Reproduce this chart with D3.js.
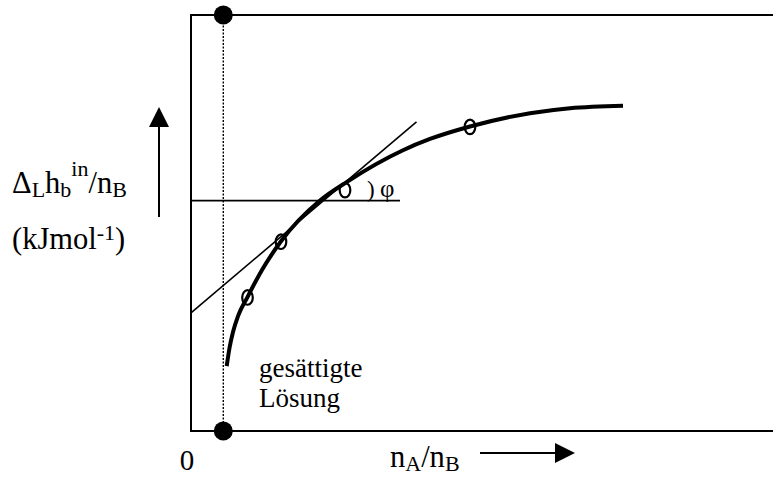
<!DOCTYPE html>
<html>
<head>
<meta charset="utf-8">
<script src="https://cdn.jsdelivr.net/npm/d3@7"></script>
<style>
  html, body { margin: 0; padding: 0; background: #fff; }
  svg { display: block; }
  text { font-family: "Liberation Serif", "Times New Roman", serif; fill: #000; }
</style>
</head>
<body>
<svg id="chart" width="773" height="477"></svg>
<script>
// Integral solution enthalpy per mole of solute vs. mole ratio nA/nB (schematic)
const curveX = [0.714, 0.77, 0.84, 0.94, 1.13, 1.42, 1.80, 2.58, 3.12, 4.24, 4.78, 5.58, 6.78, 7.58, 8.64];
const curveY = [15.6, 19.95, 23.8, 27.6, 32.2, 38.7, 45.6, 55.4, 59.9, 67.5, 70.2, 73.2, 76.4, 77.6, 78.2];

// measured points on the curve
const pointX = [1.13, 1.80, 3.08, 5.58];
const pointY = [32.1, 45.5, 57.9, 73.1];

// tangent line and horizontal reference line
const tangentX = [0, 4.51];
const tangentY = [28.4, 74.3];
const horizX = [0, 4.18];
const horizY = [55.4, 55.4];

// saturation mole ratio
const saturationX = [0.646];

const xTickLabels = ["0"];

const svg = d3.select("#chart");
const x = d3.scaleLinear().domain([0, 12]).range([191, 791]);
const y = d3.scaleLinear().domain([0, 100]).range([431, 15]);

const FONT = "'Liberation Serif', 'Times New Roman', serif";
const MAIN = 30.5, SMALL = 22;

svg.append("rect").attr("width", 773).attr("height", 477).attr("fill", "#fff");

// frame
svg.append("rect")
  .attr("x", x(0)).attr("y", y(100))
  .attr("width", x(12) - x(0)).attr("height", y(0) - y(100))
  .attr("fill", "none").attr("stroke", "#000").attr("stroke-width", 2);

// saturation marker: dotted vertical with end dots
saturationX.forEach(s => {
  svg.append("line")
    .attr("x1", x(s)).attr("x2", x(s))
    .attr("y1", y(100)).attr("y2", y(0))
    .attr("stroke", "#000").attr("stroke-width", 1.4)
    .attr("stroke-dasharray", "2,1.5");
  [100, 0].forEach(v => {
    svg.append("circle").attr("cx", x(s)).attr("cy", y(v)).attr("r", 9.5).attr("fill", "#000");
  });
});

const line = d3.line().x(d => x(d[0])).y(d => y(d[1]));

// horizontal reference and tangent
svg.append("path").datum(d3.zip(horizX, horizY)).attr("d", line)
  .attr("fill", "none").attr("stroke", "#000").attr("stroke-width", 1.8);
svg.append("path").datum(d3.zip(tangentX, tangentY)).attr("d", line)
  .attr("fill", "none").attr("stroke", "#000").attr("stroke-width", 1.6);

// main curve
svg.append("path").datum(d3.zip(curveX, curveY))
  .attr("d", line.curve(d3.curveMonotoneX))
  .attr("fill", "none").attr("stroke", "#000").attr("stroke-width", 4)
  .attr("stroke-linecap", "butt");

// point markers
svg.selectAll("ellipse.pt").data(d3.zip(pointX, pointY)).join("ellipse")
  .attr("class", "pt")
  .attr("cx", d => x(d[0])).attr("cy", d => y(d[1]))
  .attr("rx", 5.3).attr("ry", 7.3)
  .attr("fill", "none").attr("stroke", "#000").attr("stroke-width", 2.2);

function label(xp, yp, size) {
  return svg.append("text").attr("x", xp).attr("y", yp)
    .attr("font-family", FONT).attr("font-size", size);
}

// angle annotation
label(367, 197, 23).text(")");
label(380, 197, 25).text("φ");

// origin label
label(x(0), 470, 29).attr("text-anchor", "middle").attr("dx", -4).text(xTickLabels[0]);

// saturated solution note
label(259, 377, 27).text("gesättigte");
label(259, 407, 27).text("Lösung");

// y-axis label
const yl1 = label(12, 193, MAIN);
yl1.append("tspan").text("Δ");
yl1.append("tspan").attr("font-size", SMALL).attr("dy", 3.5).text("L");
yl1.append("tspan").attr("dy", -3.5).text("h");
yl1.append("tspan").attr("font-size", SMALL).attr("dy", 3.5).text("b");
yl1.append("tspan").attr("font-size", SMALL).attr("dy", -21).text("in");
yl1.append("tspan").attr("dy", 17.5).text("/n");
yl1.append("tspan").attr("font-size", SMALL).attr("dy", 3.5).text("B");

const yl2 = label(12, 249, MAIN);
yl2.append("tspan").text("(kJmol");
yl2.append("tspan").attr("font-size", SMALL).attr("dy", -9).text("-1");
yl2.append("tspan").attr("dy", 9).text(")");

// x-axis label
const xl = label(390, 467, MAIN);
xl.append("tspan").text("n");
xl.append("tspan").attr("font-size", SMALL).attr("dy", 3.5).text("A");
xl.append("tspan").attr("dy", -3.5).text("/n");
xl.append("tspan").attr("font-size", SMALL).attr("dy", 3.5).text("B");

// direction arrows
function arrow(x1, y1, x2, y2) {
  const ang = Math.atan2(y2 - y1, x2 - x1);
  const len = 20, half = 10;
  const bx = x2 - len * Math.cos(ang), by = y2 - len * Math.sin(ang);
  svg.append("line").attr("x1", x1).attr("y1", y1).attr("x2", bx).attr("y2", by)
    .attr("stroke", "#000").attr("stroke-width", 2);
  const px = -Math.sin(ang) * half, py = Math.cos(ang) * half;
  svg.append("path")
    .attr("d", `M${x2},${y2}L${bx + px},${by + py}L${bx - px},${by - py}Z`)
    .attr("fill", "#000");
}
arrow(159, 217, 159, 107);
arrow(480, 453, 575, 453);
</script>
</body>
</html>
